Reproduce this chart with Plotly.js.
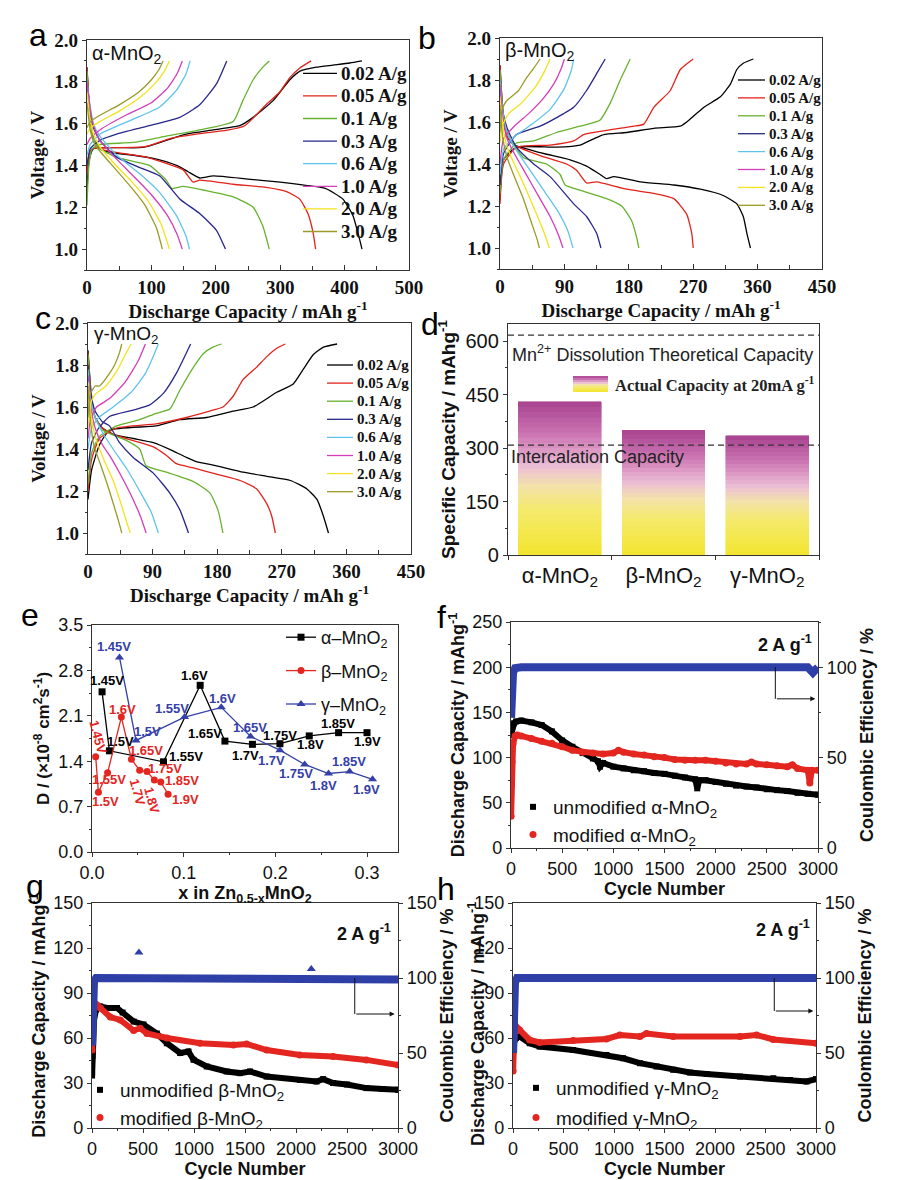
<!DOCTYPE html>
<html><head><meta charset="utf-8">
<script src="https://cdn.plot.ly/plotly-3.0.1.min.js"></script>
<style>html,body{margin:0;padding:0;background:#fff}#chart{width:916px;height:1180px}</style>
</head><body><div id="chart"></div>
<script>
// ---------------- DATA ----------------
const rateLabels = ['0.02 A/g','0.05 A/g','0.1 A/g','0.3 A/g','0.6 A/g','1.0 A/g','2.0 A/g','3.0 A/g'];

// Panel a: alpha-MnO2 (capacity mAh/g, voltage V)
const alphaDisQ = [
 [0,4,10,20,40,70,108,139,157,175,196,250,300,340,370,397,413,423,427],
 [0,4,10,20,50,92,123,149,165,175,227,278,310,330,343,351,355],
 [0,4,10,20,45,71,97,123,132,149,185,227,258,273,283],
 [0,5,10,20,46,82,113,144,175,201,215],
 [0,5,10,20,46,82,113,139,154,159],
 [0,5,10,20,46,75,100,125,140,148],
 [0,5,10,20,45,70,95,115,128],
 [0,5,12,25,45,70,90,108,117]];
const alphaDisV = [
 [1.87,1.66,1.53,1.48,1.46,1.45,1.43,1.40,1.37,1.34,1.35,1.335,1.32,1.305,1.29,1.24,1.16,1.05,1.00],
 [1.87,1.66,1.53,1.48,1.46,1.44,1.41,1.38,1.32,1.33,1.31,1.295,1.275,1.24,1.17,1.08,1.00],
 [1.85,1.65,1.53,1.48,1.44,1.42,1.40,1.33,1.29,1.30,1.28,1.25,1.20,1.11,1.00],
 [1.80,1.66,1.58,1.52,1.44,1.39,1.35,1.24,1.17,1.09,1.00],
 [1.80,1.68,1.60,1.54,1.45,1.36,1.27,1.16,1.06,1.00],
 [1.80,1.67,1.59,1.52,1.43,1.34,1.26,1.16,1.07,1.00],
 [1.75,1.62,1.55,1.49,1.40,1.32,1.23,1.12,1.00],
 [1.70,1.57,1.50,1.45,1.38,1.29,1.21,1.10,1.00]];
const alphaChgQ = [
 [0,3,10,40,80,92,123,154,196,237,258,289,315,330,356,382,408,427],
 [0,3,8,40,90,130,170,220,245,278,299,315,330,348],
 [0,3,8,20,71,123,175,227,242,258,273,283],
 [0,5,20,46,97,144,175,201,217],
 [0,5,20,71,113,139,154,160],
 [0,5,20,60,100,125,140,148],
 [0,5,20,50,80,105,120,128],
 [0,5,20,50,80,100,112,118]];
const alphaChgV = [
 [1.27,1.42,1.48,1.485,1.485,1.49,1.52,1.55,1.57,1.59,1.63,1.71,1.81,1.85,1.87,1.88,1.89,1.90],
 [1.36,1.45,1.48,1.485,1.49,1.53,1.55,1.57,1.59,1.69,1.75,1.82,1.865,1.90],
 [1.21,1.40,1.48,1.50,1.51,1.54,1.57,1.61,1.71,1.81,1.87,1.90],
 [1.40,1.48,1.52,1.55,1.59,1.63,1.69,1.79,1.90],
 [1.45,1.50,1.55,1.62,1.68,1.76,1.84,1.90],
 [1.50,1.53,1.57,1.64,1.70,1.77,1.84,1.90],
 [1.55,1.58,1.61,1.66,1.72,1.79,1.85,1.90],
 [1.58,1.61,1.64,1.69,1.75,1.81,1.86,1.90]];

// Panel b: beta-MnO2
const betaDisQ = [
 [0,4,10,20,40,61,98,121,140,149,159,196,243,280,312,331,340,345,350],
 [0,4,10,20,56,93,107,121,135,177,215,243,261,268,270],
 [0,4,10,20,33,65,84,91,117,149,170,184,191,194],
 [0,4,10,23,47,70,103,121,135,141],
 [0,4,10,20,40,60,80,95,102],
 [0,4,10,20,35,55,70,82,88],
 [0,4,10,20,35,50,62,69],
 [0,4,10,20,32,44,52,55]];
const betaDisV = [
 [1.87,1.65,1.53,1.49,1.47,1.45,1.42,1.39,1.35,1.33,1.34,1.315,1.30,1.28,1.25,1.21,1.15,1.07,1.00],
 [1.87,1.65,1.53,1.49,1.44,1.40,1.37,1.31,1.315,1.28,1.26,1.235,1.16,1.07,1.00],
 [1.85,1.65,1.55,1.49,1.43,1.40,1.35,1.30,1.27,1.235,1.20,1.13,1.05,1.00],
 [1.80,1.65,1.57,1.48,1.40,1.34,1.21,1.15,1.07,1.00],
 [1.80,1.65,1.55,1.48,1.38,1.28,1.18,1.08,1.00],
 [1.78,1.62,1.52,1.45,1.36,1.24,1.15,1.06,1.00],
 [1.72,1.58,1.48,1.40,1.29,1.17,1.07,1.00],
 [1.68,1.52,1.43,1.34,1.24,1.12,1.04,1.00]];
const betaChgQ = [
 [0,5,23,79,112,131,145,177,215,252,261,285,308,322,331,340,354],
 [0,5,23,70,103,117,149,187,201,215,238,252,270],
 [0,5,23,47,79,112,140,154,168,182],
 [0,5,23,56,89,103,121,135,147],
 [0,5,20,45,70,90,100,103],
 [0,5,20,40,60,75,85,90],
 [0,3,12,30,50,62,70],
 [0,3,9,26,37,48,56]];
const betaChgV = [
 [1.23,1.42,1.48,1.48,1.49,1.52,1.54,1.55,1.57,1.58,1.60,1.67,1.72,1.78,1.85,1.88,1.90],
 [1.21,1.40,1.48,1.49,1.51,1.54,1.56,1.58,1.59,1.67,1.75,1.85,1.90],
 [1.26,1.42,1.50,1.51,1.55,1.58,1.61,1.69,1.80,1.90],
 [1.30,1.45,1.54,1.58,1.64,1.67,1.75,1.83,1.90],
 [1.35,1.47,1.53,1.59,1.66,1.76,1.85,1.90],
 [1.40,1.52,1.58,1.64,1.71,1.78,1.85,1.90],
 [1.50,1.58,1.64,1.69,1.77,1.84,1.90],
 [1.55,1.66,1.70,1.75,1.81,1.86,1.90]];

// Panel c: gamma-MnO2
const gammaDisQ = [
 [0,4,10,20,35,63,91,119,137,151,179,216,249,282,305,319,328,335],
 [0,4,10,20,35,63,91,109,123,147,179,212,235,249,256,261],
 [0,4,10,20,54,72,81,109,147,170,181,188],
 [0,4,10,20,30,44,63,91,114,128,140],
 [0,4,10,20,35,55,72,88,98],
 [0,4,10,20,30,45,60,73,81],
 [0,4,10,22,35,45,54,59],
 [0,3,8,18,28,37,44,47]];
const gammaDisV = [
 [1.87,1.68,1.55,1.50,1.47,1.45,1.43,1.39,1.36,1.34,1.32,1.29,1.27,1.25,1.21,1.16,1.08,1.00],
 [1.86,1.67,1.55,1.50,1.47,1.44,1.41,1.37,1.33,1.31,1.28,1.25,1.21,1.14,1.08,1.00],
 [1.85,1.65,1.55,1.49,1.44,1.40,1.32,1.29,1.245,1.19,1.11,1.00],
 [1.80,1.66,1.58,1.53,1.51,1.43,1.36,1.285,1.19,1.11,1.00],
 [1.78,1.63,1.55,1.48,1.40,1.30,1.20,1.10,1.00],
 [1.75,1.60,1.50,1.42,1.37,1.28,1.18,1.08,1.00],
 [1.72,1.57,1.46,1.35,1.25,1.15,1.05,1.00],
 [1.70,1.55,1.42,1.32,1.22,1.12,1.04,1.00]];
const gammaChgQ = [
 [0,5,16,30,95,128,165,202,230,263,286,300,314,328,347],
 [0,5,16,40,95,137,174,188,202,216,235,249,263,275],
 [0,5,16,40,72,95,114,128,147,161,174,186],
 [0,5,15,30,63,86,105,123,143],
 [0,5,15,35,60,80,92,98],
 [0,4,12,30,52,70,80],
 [0,4,10,25,40,52,60],
 [0,3,10,16,30,37,44,47]];
const gammaChgV = [
 [1.16,1.30,1.42,1.49,1.51,1.54,1.55,1.58,1.60,1.67,1.71,1.78,1.85,1.885,1.90],
 [1.20,1.35,1.45,1.50,1.52,1.55,1.585,1.60,1.65,1.73,1.79,1.84,1.88,1.90],
 [1.23,1.38,1.46,1.51,1.54,1.57,1.59,1.68,1.79,1.855,1.885,1.90],
 [1.30,1.43,1.50,1.555,1.585,1.61,1.665,1.76,1.90],
 [1.40,1.50,1.55,1.60,1.67,1.76,1.85,1.90],
 [1.45,1.55,1.60,1.64,1.72,1.82,1.90],
 [1.50,1.62,1.66,1.70,1.77,1.85,1.90],
 [1.55,1.66,1.70,1.70,1.76,1.80,1.86,1.90]];

// Panel d
const phases = ['α-MnO<sub>2</sub>','β-MnO<sub>2</sub>','γ-MnO<sub>2</sub>'];
const actualCapacity = [430, 350, 334];
const theoreticalCapacity = [617];
const intercalationCapacity = [308];

// Panel e: x in Zn(0.5-x)MnO2 vs D (1e-8 cm2/s)
const voltLabels = ['1.45V','1.5V','1.55V','1.6V','1.65V','1.7V','1.75V','1.8V','1.85V','1.9V'];
const eAlphaX = [0.011,0.019,0.078,0.118,0.145,0.175,0.205,0.237,0.269,0.300];
const eAlphaD = [2.47,1.56,1.39,2.57,1.71,1.66,1.67,1.79,1.84,1.84];
const eBetaX  = [0.004,0.007,0.017,0.032,0.043,0.052,0.060,0.068,0.075,0.083];
const eBetaD  = [1.47,0.92,1.22,2.08,1.43,1.26,1.24,1.11,1.08,0.89];
const eGammaX = [0.030,0.048,0.101,0.141,0.173,0.205,0.232,0.258,0.281,0.306];
const eGammaD = [3.00,1.72,2.08,2.23,1.78,1.57,1.35,1.21,1.24,1.12];

// Panel f: alpha-MnO2 cycling at 2 A/g
const fCycUnmod = [1,10,30,50,100,200,300,400,500,600,700,800,850,870,900,1000,1100,1200,1300,1400,1500,1600,1700,1800,1820,1840,1900,2000,2100,2200,2300,2400,2500,2600,2700,2800,2900,3000];
const fCapUnmod = [125,133,138,140,141,139,136,129,119,112,105,99,96,90,94,90,88,86,85,83,82,80,78,76,66,75,75,73,71,69,68,67,65,64,63,61,60,59];
const fCycMod = [1,5,10,20,40,60,100,200,300,400,500,600,700,800,900,1000,1050,1100,1200,1300,1400,1500,1600,1700,1800,1900,2000,2100,2200,2300,2350,2400,2500,2600,2700,2750,2800,2900,2920,2940,3000];
const fCapMod = [35,70,95,115,124,125,124,121,118,116,112,108,106,105,104,105,108,106,104,103,101,100,98,97,97,97,96,94,93,93,95,93,92,91,90,92,88,86,72,86,86];
const fCycCE = [1,3,6,10,20,40,100,500,1000,1500,2000,2500,2900,2950,3000];
const fCE = [72,80,87,92,97,99.5,100,100,100,100,100,100,100,97,100];

// Panel g: beta-MnO2
const gCycUnmod = [1,5,10,20,40,80,150,245,300,408,505,636,734,864,946,995,1125,1320,1451,1549,1712,2038,2201,2266,2364,2500,2690,2850,3000];
const gCapUnmod = [35,48,60,72,79,81,80,80,77,71,69,63,56.5,50,51,45.5,41,37.7,36.6,37.7,34.3,32,31,32.6,30,29,26.6,26,25.5];
const gCycMod = [1,5,10,30,50,82,179,277,408,473,538,734,1060,1386,1516,1712,2038,2364,2690,3000];
const gCapMod = [52,70,78,83,82,80,74,72,65,66.5,63,60,56.5,55.4,56,52,48.7,47.6,45.4,42];
const gCycCE = [1,3,6,10,20,40,500,1000,1500,2000,2500,3000];
const gCE = [55,75,88,94,98,100,100,100,100,100,100,99];
const gOutCyc = [460,2150];
const gOutCE = [117,106];

// Panel h: gamma-MnO2
const hCycUnmod = [1,10,30,66,165,264,595,925,1090,1256,1421,1586,1751,1916,2247,2577,2742,2907,3000];
const hCapUnmod = [50,57,60,61,56.5,54.3,52,48.7,46.5,43.2,41,38.8,37,36,34.3,33.2,32,31,32.6];
const hCycMod = [1,5,17,66,165,264,595,925,1057,1256,1322,1586,2247,2412,2577,3000];
const hCapMod = [38,55,69,65.4,58.7,57,58.3,59.4,62,61,63,61,61,62,59,56.5];
const hCycCE = [1,3,6,10,20,40,500,1000,1500,2000,2500,3000];
const hCE = [50,70,84,92,97,100,100,100,100,100,100,100];

// ---------------- STYLE ----------------
const W = 916, H = 1180;
const px = x => x / W;
const py = y => 1 - y / H;
const SERIF = '"Liberation Serif", "Times New Roman", serif';
const SANS = '"Liberation Sans", Arial, sans-serif';
const rateColors = ['#000000','#e2231a','#66b22e','#27278a','#5fc3ec','#d43db8','#f2e31c','#9a9a26'];
const RED = '#e3261f', BLUE = '#2f3fa8', AXC = '#333';

const traces = [], shapes = [], annotations = [];

function gcd(disQ, disV, chgQ, chgV, xa, ya) {
  rateLabels.forEach((name, i) => {
    traces.push({type:'scatter', mode:'lines', name, showlegend:false, hoverinfo:'skip',
      x: disQ[i].concat([null], chgQ[i]), y: disV[i].concat([null], chgV[i]),
      xaxis: xa, yaxis: ya, connectgaps:false,
      line:{color: rateColors[i], width:1.3, shape:'spline', smoothing:0.5}});
  });
}
gcd(alphaDisQ, alphaDisV, alphaChgQ, alphaChgV, 'x', 'y');
gcd(betaDisQ, betaDisV, betaChgQ, betaChgV, 'x2', 'y2');
gcd(gammaDisQ, gammaDisV, gammaChgQ, gammaChgV, 'x3', 'y3');

function gcdLegend(x0, x1, xt, y0, dy, size) {
  rateLabels.forEach((t, i) => {
    const y = y0 + i * dy;
    shapes.push({type:'line', xref:'paper', yref:'paper', x0:px(x0), x1:px(x1), y0:py(y), y1:py(y), line:{color:rateColors[i], width:1.3}});
    annotations.push({xref:'paper', yref:'paper', x:px(xt), y:py(y), xanchor:'left', yanchor:'middle', text:t, showarrow:false,
      font:{family:SERIF, size, weight:'bold', color:'#111'}});
  });
}
gcdLegend(303, 337, 339, 73.3, 22.6, 19);
gcdLegend(738, 765, 767, 80, 17.9, 15);
gcdLegend(327, 353, 355, 365, 18.1, 15);

// Panel d gradient bars
const gradStops = [[0,[242,229,46]],[0.3,[245,234,110]],[0.45,[243,226,170]],[0.58,[236,190,214]],[0.78,[205,120,180]],[1,[168,66,144]]];
function gradColor(t) {
  for (let k = 1; k < gradStops.length; k++) {
    if (t <= gradStops[k][0]) {
      const [t0,c0] = gradStops[k-1], [t1,c1] = gradStops[k];
      const f = (t - t0) / (t1 - t0);
      const c = c0.map((v, j) => Math.round(v + (c1[j] - v) * f));
      return `rgb(${c[0]},${c[1]},${c[2]})`;
    }
  }
  const c = gradStops[gradStops.length-1][1];
  return `rgb(${c[0]},${c[1]},${c[2]})`;
}
const NSEG = 30;
for (let i = 0; i < NSEG; i++) {
  const col = gradColor((i + 0.5) / NSEG);
  traces.push({type:'bar', x: phases, y: actualCapacity.map(v => v / NSEG), xaxis:'x4', yaxis:'y4',
    width:0.8, showlegend:false, hoverinfo:'skip', marker:{color: col, line:{color: col, width:0.6}}});
}
[theoreticalCapacity[0], intercalationCapacity[0]].forEach(v => shapes.push({type:'line', xref:'x4 domain', yref:'y4', x0:0, x1:1, y0:v, y1:v,
  line:{color:'#333', width:1.3, dash:'6px,4px'}}));
for (let i = 0; i < 8; i++) {
  const y0 = 392 - i * 2, y1 = y0 - 2;
  shapes.push({type:'rect', xref:'paper', yref:'paper', x0:px(573), x1:px(608), y0:py(y0), y1:py(y1),
    fillcolor: gradColor((i + 0.5) / 8), line:{width:0}});
}
annotations.push({xref:'paper', yref:'paper', x:px(613), y:py(384), xanchor:'left', yanchor:'middle', showarrow:false,
  text:'Actual Capacity at 20mA g<sup>-1</sup>', font:{family:SERIF, size:16.5, weight:'bold', color:'#222'}});
annotations.push({xref:'paper', yref:'paper', x:px(510), y:py(353), xanchor:'left', yanchor:'middle', showarrow:false,
  text:'Mn<sup>2+</sup> Dissolution Theoretical Capacity', font:{family:SANS, size:18, color:'#222'}});
annotations.push({xref:'paper', yref:'paper', x:px(509), y:py(457), xanchor:'left', yanchor:'middle', showarrow:false,
  text:'Intercalation Capacity', font:{family:SANS, size:18, color:'#222'}});

// Panel e
const eSeries = [
  {x:eAlphaX, y:eAlphaD, name:'α–MnO<sub>2</sub>', color:'#000', symbol:'square', size:7, g:'ea'},
  {x:eBetaX,  y:eBetaD,  name:'β–MnO<sub>2</sub>', color:RED, symbol:'circle', size:7, g:'eb'},
  {x:eGammaX, y:eGammaD, name:'γ–MnO<sub>2</sub>', color:'#3440a8', symbol:'triangle-up', size:8, g:'ec'}];
eSeries.forEach(s => traces.push({type:'scatter', mode:'lines+markers', x:s.x, y:s.y, xaxis:'x5', yaxis:'y5', name:s.name,
  legend:'legend', legendgroup:s.g, hoverinfo:'skip', line:{color:s.color, width:1.3}, marker:{symbol:s.symbol, size:s.size, color:s.color}}));
// label offsets [dx, dy(down), angle]
const eOffsets = [
  [[5,-11],[11,-9],[22,-5],[-6,-10],[-20,-8],[-7,11],[0,-8],[1,9],[-1,-9],[0,9]],
  [[2,-20,75],[7,9],[1,7],[1,-8],[15,-9],[-2,22,75],[18,-3],[-2,20,75],[21,-1],[17,5]],
  [[-6,-11],[11,-9],[-13,-9],[1,-9],[-1,-9],[-8,10],[-9,9],[-5,12],[-1,-10],[-6,10]]];
eSeries.forEach((s, si) => s.x.forEach((xv, i) => {
  const o = eOffsets[si][i];
  annotations.push({xref:'x5', yref:'y5', x:xv, y:s.y[i], xshift:o[0], yshift:-o[1], textangle:o[2] || 0,
    xanchor:'center', yanchor:'middle',
    text:voltLabels[i], showarrow:false, font:{family:SANS, size:13, weight:'bold', color:s.color}});
}));

// Panels f-h
function cyc(xa, yl, yr, cu, vu, cm, vm, cc, ce, leg, phase) {
  traces.push({type:'scatter', mode:'lines', x:cc, y:ce, xaxis:xa, yaxis:yr, showlegend:false, hoverinfo:'skip', line:{color:BLUE, width:8}});
  traces.push({type:'scatter', mode:'lines', x:cu, y:vu, xaxis:xa, yaxis:yl, showlegend:false, hoverinfo:'skip', line:{color:'#000', width:6}});
  traces.push({type:'scatter', mode:'markers', x:cu, y:vu, xaxis:xa, yaxis:yl, name:'unmodified ' + phase, legend:leg, legendgroup:leg+'u',
    hoverinfo:'skip', marker:{symbol:'square', size:6, color:'#000'}});
  traces.push({type:'scatter', mode:'lines', x:cm, y:vm, xaxis:xa, yaxis:yl, showlegend:false, hoverinfo:'skip', line:{color:RED, width:6}});
  traces.push({type:'scatter', mode:'markers', x:cm, y:vm, xaxis:xa, yaxis:yl, name:'modified ' + phase, legend:leg, legendgroup:leg+'m',
    hoverinfo:'skip', marker:{symbol:'circle', size:7, color:RED}});
}
cyc('x6','y6','y7', fCycUnmod, fCapUnmod, fCycMod, fCapMod, fCycCE, fCE, 'legend2', 'α-MnO<sub>2</sub>');
cyc('x7','y8','y9', gCycUnmod, gCapUnmod, gCycMod, gCapMod, gCycCE, gCE, 'legend3', 'β-MnO<sub>2</sub>');
cyc('x8','y10','y11', hCycUnmod, hCapUnmod, hCycMod, hCapMod, hCycCE, hCE, 'legend4', 'γ-MnO<sub>2</sub>');
traces.push({type:'scatter', mode:'markers', x:gOutCyc, y:gOutCE, xaxis:'x7', yaxis:'y9', showlegend:false, hoverinfo:'skip',
  marker:{symbol:'triangle-up', size:8, color:BLUE}});

// arrows & rate labels
function arrow(xa, ya, xs, ytop, yb, xe) {
  shapes.push({type:'line', xref:xa, yref:ya, x0:xs, x1:xs, y0:ytop, y1:yb, line:{color:'#111', width:1}});
  annotations.push({xref:xa, yref:ya, axref:xa, ayref:ya, x:xe, y:yb, ax:xs, ay:yb, text:'', showarrow:true,
    arrowhead:2, arrowsize:1, arrowwidth:1, arrowcolor:'#111'});
}
arrow('x6','y6', 2583, 200, 165, 2974);
arrow('x7','y8', 2576, 100, 76, 2967);
arrow('x8','y10', 2587, 100, 78, 2974);
[[785,643],[364,932],[783,928]].forEach(p => annotations.push({xref:'paper', yref:'paper', x:px(p[0]), y:py(p[1]),
  xanchor:'center', yanchor:'middle', showarrow:false,
  text:'2 A g<sup>-1</sup>', font:{family:SANS, size:18, weight:'bold', color:'#111'}}));

// h left axis title (overlaps its tick labels in the original)
annotations.push({xref:'paper', yref:'paper', x:px(476), y:py(1024), xanchor:'center', yanchor:'middle', textangle:-90, showarrow:false,
  text:'Discharge Capacity / mAhg<sup>-1</sup>', font:{family:SANS, size:18, weight:'bold', color:'#111'}});

// in-panel phase labels
[['α-MnO<sub>2</sub>',90,55,20],['β-MnO<sub>2</sub>',503,51,20],['γ-MnO<sub>2</sub>',92,335,19]].forEach(p => annotations.push({xref:'paper', yref:'paper',
  x:px(p[1]), y:py(p[2]), xanchor:'left', yanchor:'middle', showarrow:false, text:p[0], font:{family:SANS, size:p[3], color:'#111'}}));

// panel letters
[['a',38,35],['b',427,38],['c',43,318],['d',430,324],['e',30,615],['f',441,617],['g',35,886],['h',446,889]].forEach(p =>
  annotations.push({xref:'paper', yref:'paper', x:px(p[1]), y:py(p[2]), xanchor:'center', yanchor:'middle', showarrow:false,
    text:p[0], font:{family:SANS, size:32, color:'#000'}}));

// ---------------- AXES ----------------
function axis(domain, range, o) {
  return Object.assign({domain, range, showline:true, mirror:true, linecolor:AXC, linewidth:1.2, ticks:'outside', ticklen:4,
    tickwidth:1, tickcolor:AXC, showgrid:false, zeroline:false, fixedrange:true}, o);
}
const serifTick = {family:SERIF, size:19, weight:'bold', color:'#111'};
const serifTitle = {family:SERIF, size:19, weight:'bold', color:'#111'};
const sansTick = {family:SANS, size:18, color:'#111'};
const sansTitle = {family:SANS, size:18, weight:'bold', color:'#111'};
const capTitle = 'Discharge Capacity / mAh g<sup>-1</sup>';
const gcdX = (dom, anchor, max, dt) => axis(dom, [0, max], {anchor, dtick:dt, ticks:'inside', ticklen:5,
  minor:{dtick:dt/2, ticklen:4, ticks:'inside'}, tickfont:serifTick, title:{text:capTitle, font:serifTitle, standoff:0}});
const gcdY = (dom, anchor) => axis(dom, [0.9, 2.0], {anchor, dtick:0.2, tick0:0, tickformat:'.1f', ticks:'outside', ticklen:4,
  minor:{dtick:0.1, ticklen:2, ticks:'outside'}, tickfont:serifTick, title:{text:'Voltage / V', font:serifTitle, standoff:4}});

const layout = {
  width:W, height:H, margin:{l:0, r:0, t:0, b:0}, paper_bgcolor:'#fff', plot_bgcolor:'rgba(0,0,0,0)',
  barmode:'stack', bargap:0.2, showlegend:true,
  font:{family:SANS, color:'#111'},
  xaxis: gcdX([px(87),px(409)], 'y', 500, 100),
  yaxis: gcdY([py(270),py(40)], 'x'),
  xaxis2: gcdX([px(500),px(822)], 'y2', 450, 90),
  yaxis2: gcdY([py(269),py(38)], 'x2'),
  xaxis3: gcdX([px(88),px(411)], 'y3', 450, 90),
  yaxis3: gcdY([py(554),py(323)], 'x3'),
  xaxis4: axis([px(508),px(819)],[-0.5,2.5],{anchor:'y4', type:'category', tickson:'boundaries', tickfont:{family:SANS, size:22, color:'#111'}}),
  yaxis4: axis([py(555),py(324)],[0,648],{anchor:'x4', dtick:150, minor:{dtick:75, ticklen:2}, tickfont:{family:SANS, size:20, color:'#111'}, title:{text:'Specific Capacity / mAhg<sup>-1</sup>', font:{family:SANS, size:19, weight:'bold', color:'#111'}, standoff:4}}),
  xaxis5: axis([px(92),px(398)],[0,0.3338],{anchor:'y5', dtick:0.1, tickformat:'.1f', minor:{dtick:0.05, ticklen:2}, tickfont:sansTick, title:{text:'x in Zn<sub>0.5-x</sub>MnO<sub>2</sub>', font:{family:SANS, size:18, weight:'bold', color:'#111'}, standoff:0}}),
  yaxis5: axis([py(852),py(625)],[0,3.5],{anchor:'x5', dtick:0.7, tickformat:'.1f', minor:{dtick:0.35, ticklen:2}, tickfont:sansTick, title:{text:'D / (×10<sup>-8</sup> cm<sup>2</sup>s<sup>-1</sup>)', font:{family:SANS, size:17, weight:'bold', color:'#111'}, standoff:4}}),
  xaxis6: axis([px(511),px(818)],[0,3000],{anchor:'y6', dtick:500, minor:{dtick:250, ticklen:2}, tickfont:sansTick, title:{text:'Cycle Number', font:sansTitle, standoff:4}}),
  yaxis6: axis([py(848),py(622)],[0,250],{anchor:'x6', dtick:50, minor:{dtick:25, ticklen:2}, tickfont:sansTick, title:{text:'Discharge Capacity / mAhg<sup>-1</sup>', font:sansTitle, standoff:2}}),
  yaxis7: axis(null,[0,125],{anchor:'x6', overlaying:'y6', side:'right', mirror:false, dtick:50, minor:{dtick:25, ticklen:2}, tickfont:sansTick, title:{text:'Coulombic Efficiency / %', font:sansTitle, standoff:1}}),
  xaxis7: axis([px(92),px(398)],[0,3000],{anchor:'y8', dtick:500, minor:{dtick:250, ticklen:2}, tickfont:sansTick, title:{text:'Cycle Number', font:sansTitle, standoff:4}}),
  yaxis8: axis([py(1128),py(903)],[0,150],{anchor:'x7', dtick:30, minor:{dtick:15, ticklen:2}, tickfont:sansTick, title:{text:'Discharge Capacity / mAhg<sup>-1</sup>', font:sansTitle, standoff:2}}),
  yaxis9: axis(null,[0,150],{anchor:'x7', overlaying:'y8', side:'right', mirror:false, dtick:50, minor:{dtick:25, ticklen:2}, tickfont:sansTick, title:{text:'Coulombic Efficiency / %', font:sansTitle, standoff:0}}),
  xaxis8: axis([px(513),px(816)],[0,3000],{anchor:'y10', dtick:500, minor:{dtick:250, ticklen:2}, tickfont:sansTick, title:{text:'Cycle Number', font:sansTitle, standoff:4}}),
  yaxis10: axis([py(1128),py(903)],[0,150],{anchor:'x8', dtick:30, minor:{dtick:15, ticklen:2}, tickfont:sansTick}),
  yaxis11: axis(null,[0,150],{anchor:'x8', overlaying:'y10', side:'right', mirror:false, dtick:50, minor:{dtick:25, ticklen:2}, tickfont:sansTick, title:{text:'Coulombic Efficiency / %', font:sansTitle, standoff:2}}),
  legend: {x:px(281), y:py(619), xanchor:'left', yanchor:'top', bgcolor:'rgba(0,0,0,0)', tracegroupgap:7, font:{family:SANS, size:18, color:'#111'}},
  legend2: {x:px(513), y:py(788), xanchor:'left', yanchor:'top', bgcolor:'rgba(0,0,0,0)', tracegroupgap:0, font:{family:SANS, size:19, color:'#111'}},
  legend3: {x:px(80), y:py(1071), xanchor:'left', yanchor:'top', bgcolor:'rgba(0,0,0,0)', tracegroupgap:0, font:{family:SANS, size:19, color:'#111'}},
  legend4: {x:px(516), y:py(1069), xanchor:'left', yanchor:'top', bgcolor:'rgba(0,0,0,0)', tracegroupgap:2, font:{family:SANS, size:19, color:'#111'}},
  shapes, annotations
};
['yaxis7','yaxis9','yaxis11'].forEach(k => delete layout[k].domain);

Plotly.newPlot('chart', traces, layout, {displayModeBar:false, staticPlot:true});
</script></body></html>
